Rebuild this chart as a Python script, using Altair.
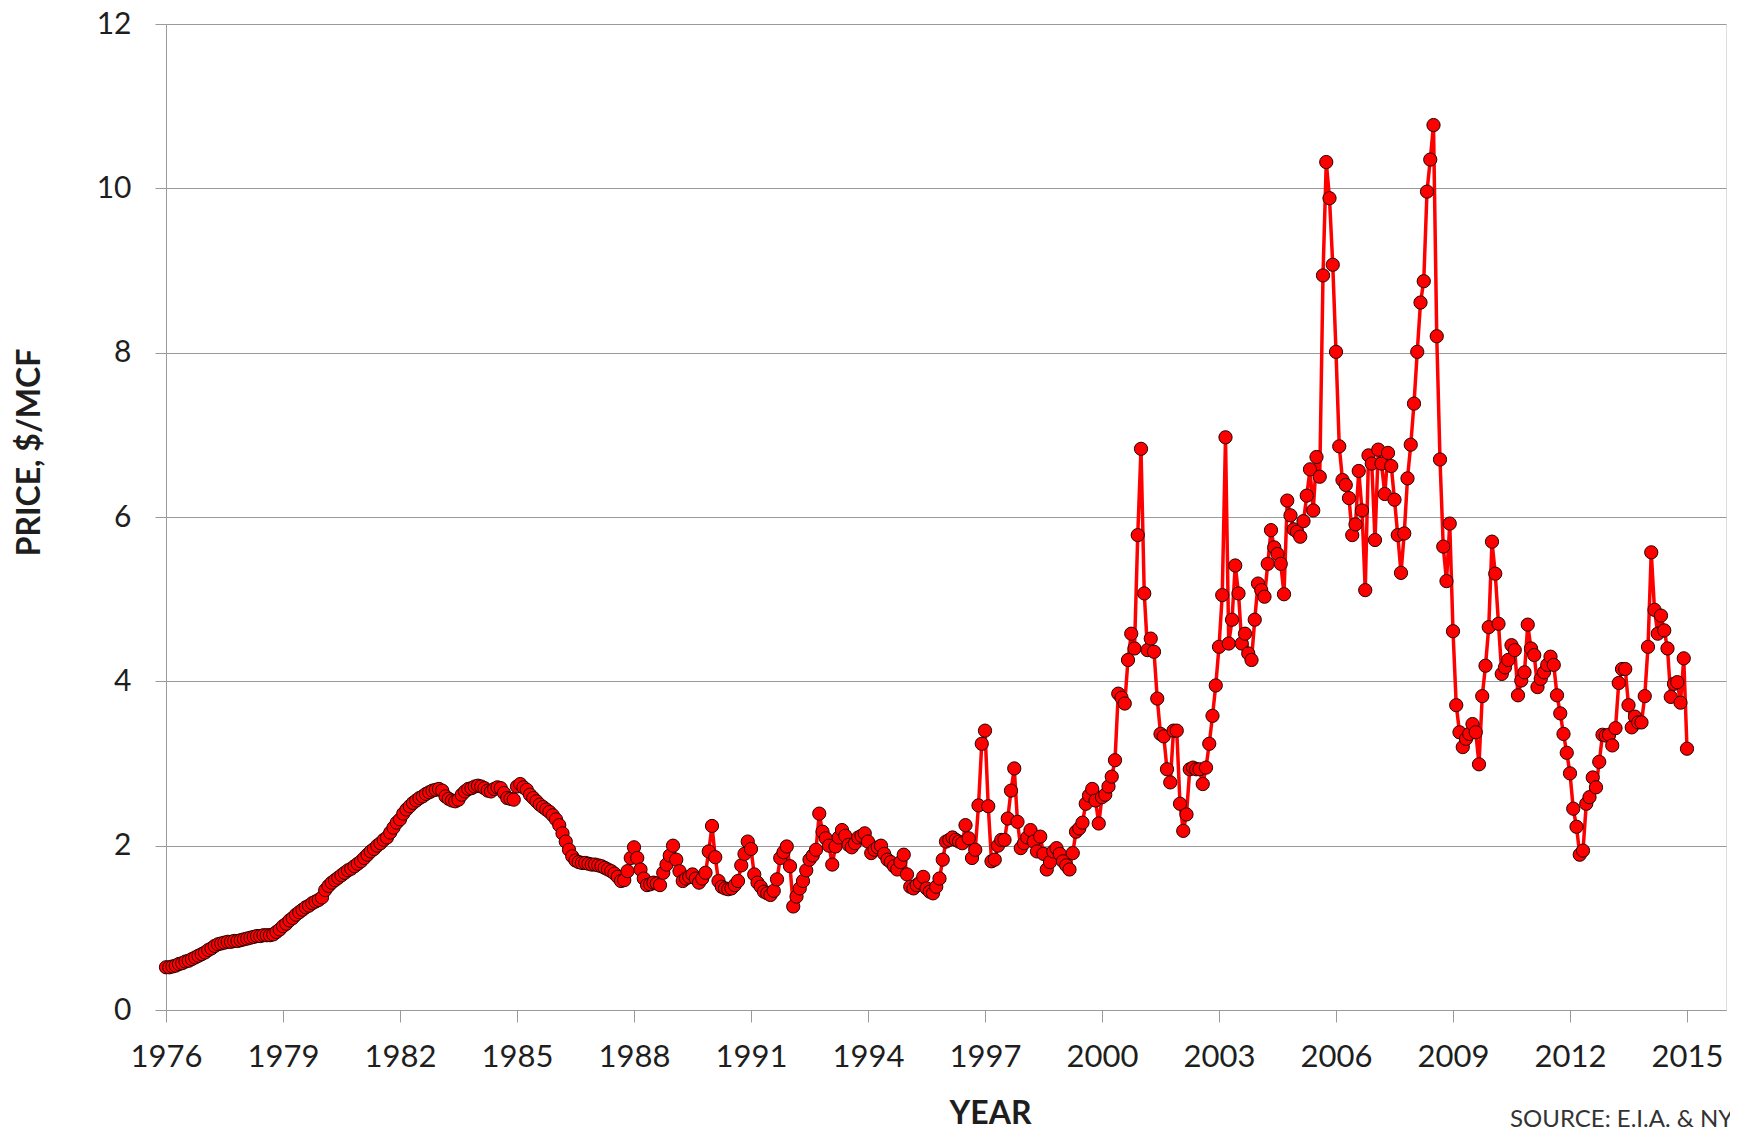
import altair as alt
import pandas as pd

# Monthly price, $/MCF (Jan..Dec)
y1976 = [0.52, 0.52, 0.53, 0.54, 0.56, 0.57, 0.59, 0.60, 0.62, 0.64, 0.66, 0.68]
y1977 = [0.70, 0.73, 0.75, 0.78, 0.80, 0.81, 0.82, 0.83, 0.83, 0.84, 0.84, 0.85]
y1978 = [0.86, 0.87, 0.88, 0.89, 0.90, 0.90, 0.91, 0.91, 0.91, 0.92, 0.95, 0.98]
y1979 = [1.02, 1.05, 1.09, 1.12, 1.16, 1.19, 1.22, 1.25, 1.27, 1.30, 1.32, 1.34]
y1980 = [1.37, 1.46, 1.51, 1.55, 1.58, 1.61, 1.64, 1.67, 1.70, 1.72, 1.75, 1.78]
y1981 = [1.81, 1.85, 1.89, 1.93, 1.96, 2.00, 2.03, 2.07, 2.10, 2.16, 2.22, 2.28]
y1982 = [2.32, 2.39, 2.44, 2.48, 2.52, 2.55, 2.58, 2.60, 2.63, 2.65, 2.67, 2.68]
y1983 = [2.69, 2.67, 2.60, 2.57, 2.55, 2.54, 2.56, 2.62, 2.66, 2.69, 2.70, 2.72]
y1984 = [2.73, 2.72, 2.70, 2.67, 2.66, 2.69, 2.71, 2.70, 2.64, 2.58, 2.57, 2.56]
y1985 = [2.72, 2.75, 2.71, 2.68, 2.62, 2.58, 2.54, 2.50, 2.47, 2.44, 2.41, 2.37]
y1986 = [2.32, 2.25, 2.15, 2.05, 1.95, 1.87, 1.82, 1.80, 1.79, 1.79, 1.78, 1.77]
y1987 = [1.77, 1.76, 1.75, 1.73, 1.71, 1.69, 1.66, 1.62, 1.57, 1.58, 1.69, 1.85]
y1988 = [1.98, 1.85, 1.71, 1.60, 1.52, 1.53, 1.55, 1.54, 1.52, 1.67, 1.77, 1.88]
y1989 = [2.00, 1.83, 1.69, 1.57, 1.60, 1.62, 1.65, 1.60, 1.55, 1.60, 1.67, 1.93]
y1990 = [2.24, 1.86, 1.57, 1.50, 1.48, 1.47, 1.48, 1.52, 1.57, 1.76, 1.90, 2.05]
y1991 = [1.96, 1.65, 1.55, 1.50, 1.44, 1.42, 1.40, 1.45, 1.59, 1.85, 1.92, 1.99]
y1992 = [1.75, 1.26, 1.38, 1.48, 1.57, 1.70, 1.83, 1.88, 1.95, 2.39, 2.17, 2.09]
y1993 = [2.00, 1.77, 1.99, 2.10, 2.19, 2.12, 2.01, 1.98, 2.03, 2.10, 2.12, 2.15]
y1994 = [2.05, 1.91, 1.95, 1.98, 2.00, 1.90, 1.83, 1.80, 1.75, 1.71, 1.80, 1.89]
y1995 = [1.65, 1.50, 1.48, 1.52, 1.55, 1.62, 1.48, 1.44, 1.42, 1.50, 1.60, 1.83]
y1996 = [2.05, 2.07, 2.10, 2.07, 2.05, 2.03, 2.25, 2.09, 1.85, 1.95, 2.49, 3.24]
y1997 = [3.40, 2.48, 1.81, 1.83, 2.00, 2.07, 2.07, 2.33, 2.67, 2.94, 2.29, 1.97]
y1998 = [2.03, 2.10, 2.19, 2.05, 1.93, 2.11, 1.90, 1.71, 1.80, 1.93, 1.97, 1.90]
y1999 = [1.81, 1.76, 1.71, 1.91, 2.17, 2.21, 2.28, 2.51, 2.61, 2.69, 2.55, 2.27]
y2000 = [2.59, 2.62, 2.72, 2.84, 3.04, 3.85, 3.80, 3.73, 4.26, 4.58, 4.40, 5.78]
y2001 = [6.83, 5.07, 4.38, 4.52, 4.36, 3.79, 3.36, 3.33, 2.93, 2.77, 3.40, 3.40]
y2002 = [2.51, 2.18, 2.38, 2.93, 2.95, 2.93, 2.93, 2.75, 2.95, 3.24, 3.58, 3.95]
y2003 = [4.42, 5.05, 6.97, 4.46, 4.75, 5.41, 5.07, 4.46, 4.58, 4.34, 4.26, 4.75]
y2004 = [5.19, 5.11, 5.03, 5.43, 5.84, 5.63, 5.55, 5.43, 5.06, 6.20, 6.02, 5.85]
y2005 = [5.82, 5.76, 5.95, 6.26, 6.58, 6.08, 6.73, 6.49, 8.94, 10.32, 9.88, 9.07]
y2006 = [8.01, 6.86, 6.45, 6.39, 6.23, 5.78, 5.91, 6.56, 6.08, 5.11, 6.75, 6.65]
y2007 = [5.72, 6.82, 6.65, 6.28, 6.78, 6.62, 6.21, 5.78, 5.32, 5.80, 6.47, 6.88]
y2008 = [7.38, 8.01, 8.61, 8.87, 9.96, 10.35, 10.77, 8.20, 6.70, 5.64, 5.22, 5.92]
y2009 = [4.61, 3.71, 3.38, 3.20, 3.30, 3.36, 3.48, 3.38, 2.99, 3.82, 4.19, 4.66]
y2010 = [5.70, 5.31, 4.70, 4.09, 4.17, 4.26, 4.44, 4.38, 3.83, 4.01, 4.11, 4.69]
y2011 = [4.40, 4.32, 3.93, 4.03, 4.11, 4.20, 4.30, 4.20, 3.83, 3.61, 3.36, 3.13]
y2012 = [2.88, 2.45, 2.23, 1.89, 1.94, 2.51, 2.59, 2.83, 2.71, 3.02, 3.35, 3.34]
y2013 = [3.35, 3.22, 3.43, 3.98, 4.15, 4.15, 3.71, 3.44, 3.57, 3.50, 3.50, 3.82]
y2014 = [4.42, 5.57, 4.87, 4.58, 4.80, 4.62, 4.40, 3.81, 3.97, 3.99, 3.74, 4.28]
y2015 = [3.18]

series_by_year = [
    (1976, y1976), (1977, y1977), (1978, y1978), (1979, y1979), (1980, y1980),
    (1981, y1981), (1982, y1982), (1983, y1983), (1984, y1984), (1985, y1985),
    (1986, y1986), (1987, y1987), (1988, y1988), (1989, y1989), (1990, y1990),
    (1991, y1991), (1992, y1992), (1993, y1993), (1994, y1994), (1995, y1995),
    (1996, y1996), (1997, y1997), (1998, y1998), (1999, y1999), (2000, y2000),
    (2001, y2001), (2002, y2002), (2003, y2003), (2004, y2004), (2005, y2005),
    (2006, y2006), (2007, y2007), (2008, y2008), (2009, y2009), (2010, y2010),
    (2011, y2011), (2012, y2012), (2013, y2013), (2014, y2014), (2015, y2015),
]

x_tick_values = [1976, 1979, 1982, 1985, 1988, 1991, 1994, 1997, 2000, 2003, 2006, 2009, 2012, 2015]
y_tick_values = [0, 2, 4, 6, 8, 10, 12]
x_title = "YEAR"
y_title = "PRICE, $/MCF"
source_note = ["SOURCE: E.I.A. & NYMEX"]

rows = []
for yr, vals in series_by_year:
    for m, v in enumerate(vals):
        rows.append({"t": yr + m / 12.0, "price": v})
df = pd.DataFrame(rows)

FONT = "Lato"
GRAY = "#9a9a9a"
TEXT = "#1e1e1e"

x_enc = alt.X(
    "t:Q",
    scale=alt.Scale(domain=[1976, 2016], nice=False, zero=False),
    axis=alt.Axis(
        values=x_tick_values, format="d", grid=False,
        domainColor=GRAY, tickColor=GRAY, tickSize=12, tickWidth=1,
        labelFont=FONT, labelFontSize=31, labelColor=TEXT, labelPadding=20,
        labelFlush=False, labelOverlap=False,
        title=x_title, titleFont=FONT, titleFontSize=32, titleFontWeight="bold",
        titleColor=TEXT, titleX=824, titleY=103, titleAlign="center",
        titleBaseline="middle", titleAnchor="start",
    ),
)
y_enc = alt.Y(
    "price:Q",
    scale=alt.Scale(domain=[0, 12], nice=False),
    axis=alt.Axis(
        values=y_tick_values, grid=True, gridColor=GRAY, gridWidth=1,
        domainColor=GRAY, tickColor=GRAY, tickSize=11, tickWidth=1,
        labelFont=FONT, labelFontSize=30, labelColor=TEXT, labelPadding=24,
        labelFlush=False, labelOverlap=False,
        title=y_title, titleFont=FONT, titleFontSize=32, titleFontWeight="bold",
        titleColor=TEXT, titleAngle=270, titleX=-137, titleY=428,
        titleAlign="center", titleBaseline="middle", titleAnchor="start",
    ),
)

base = alt.Chart(df).encode(x=x_enc, y=y_enc)
line = base.mark_line(color="#ff0000", strokeWidth=3.5)
pts = base.mark_circle(color="#ff0000", opacity=1, stroke="#240000", strokeWidth=1, size=175)

src = alt.Chart(pd.DataFrame({"label": source_note})).mark_text(
    align="left", baseline="middle", font=FONT, fontSize=24, color="#333333"
).encode(x=alt.value(1344), y=alt.value(1096), text="label:N")

chart = alt.layer(line, pts, src).properties(
    width=1560, height=986,
    autosize=alt.AutoSizeParams(type="none"),
    padding={"left": 158, "top": 16, "right": 4, "bottom": 119},
).configure_view(stroke=GRAY, strokeWidth=1).configure(background="white")

chart.save("out.html", embed_options={"renderer": "svg", "actions": False})
